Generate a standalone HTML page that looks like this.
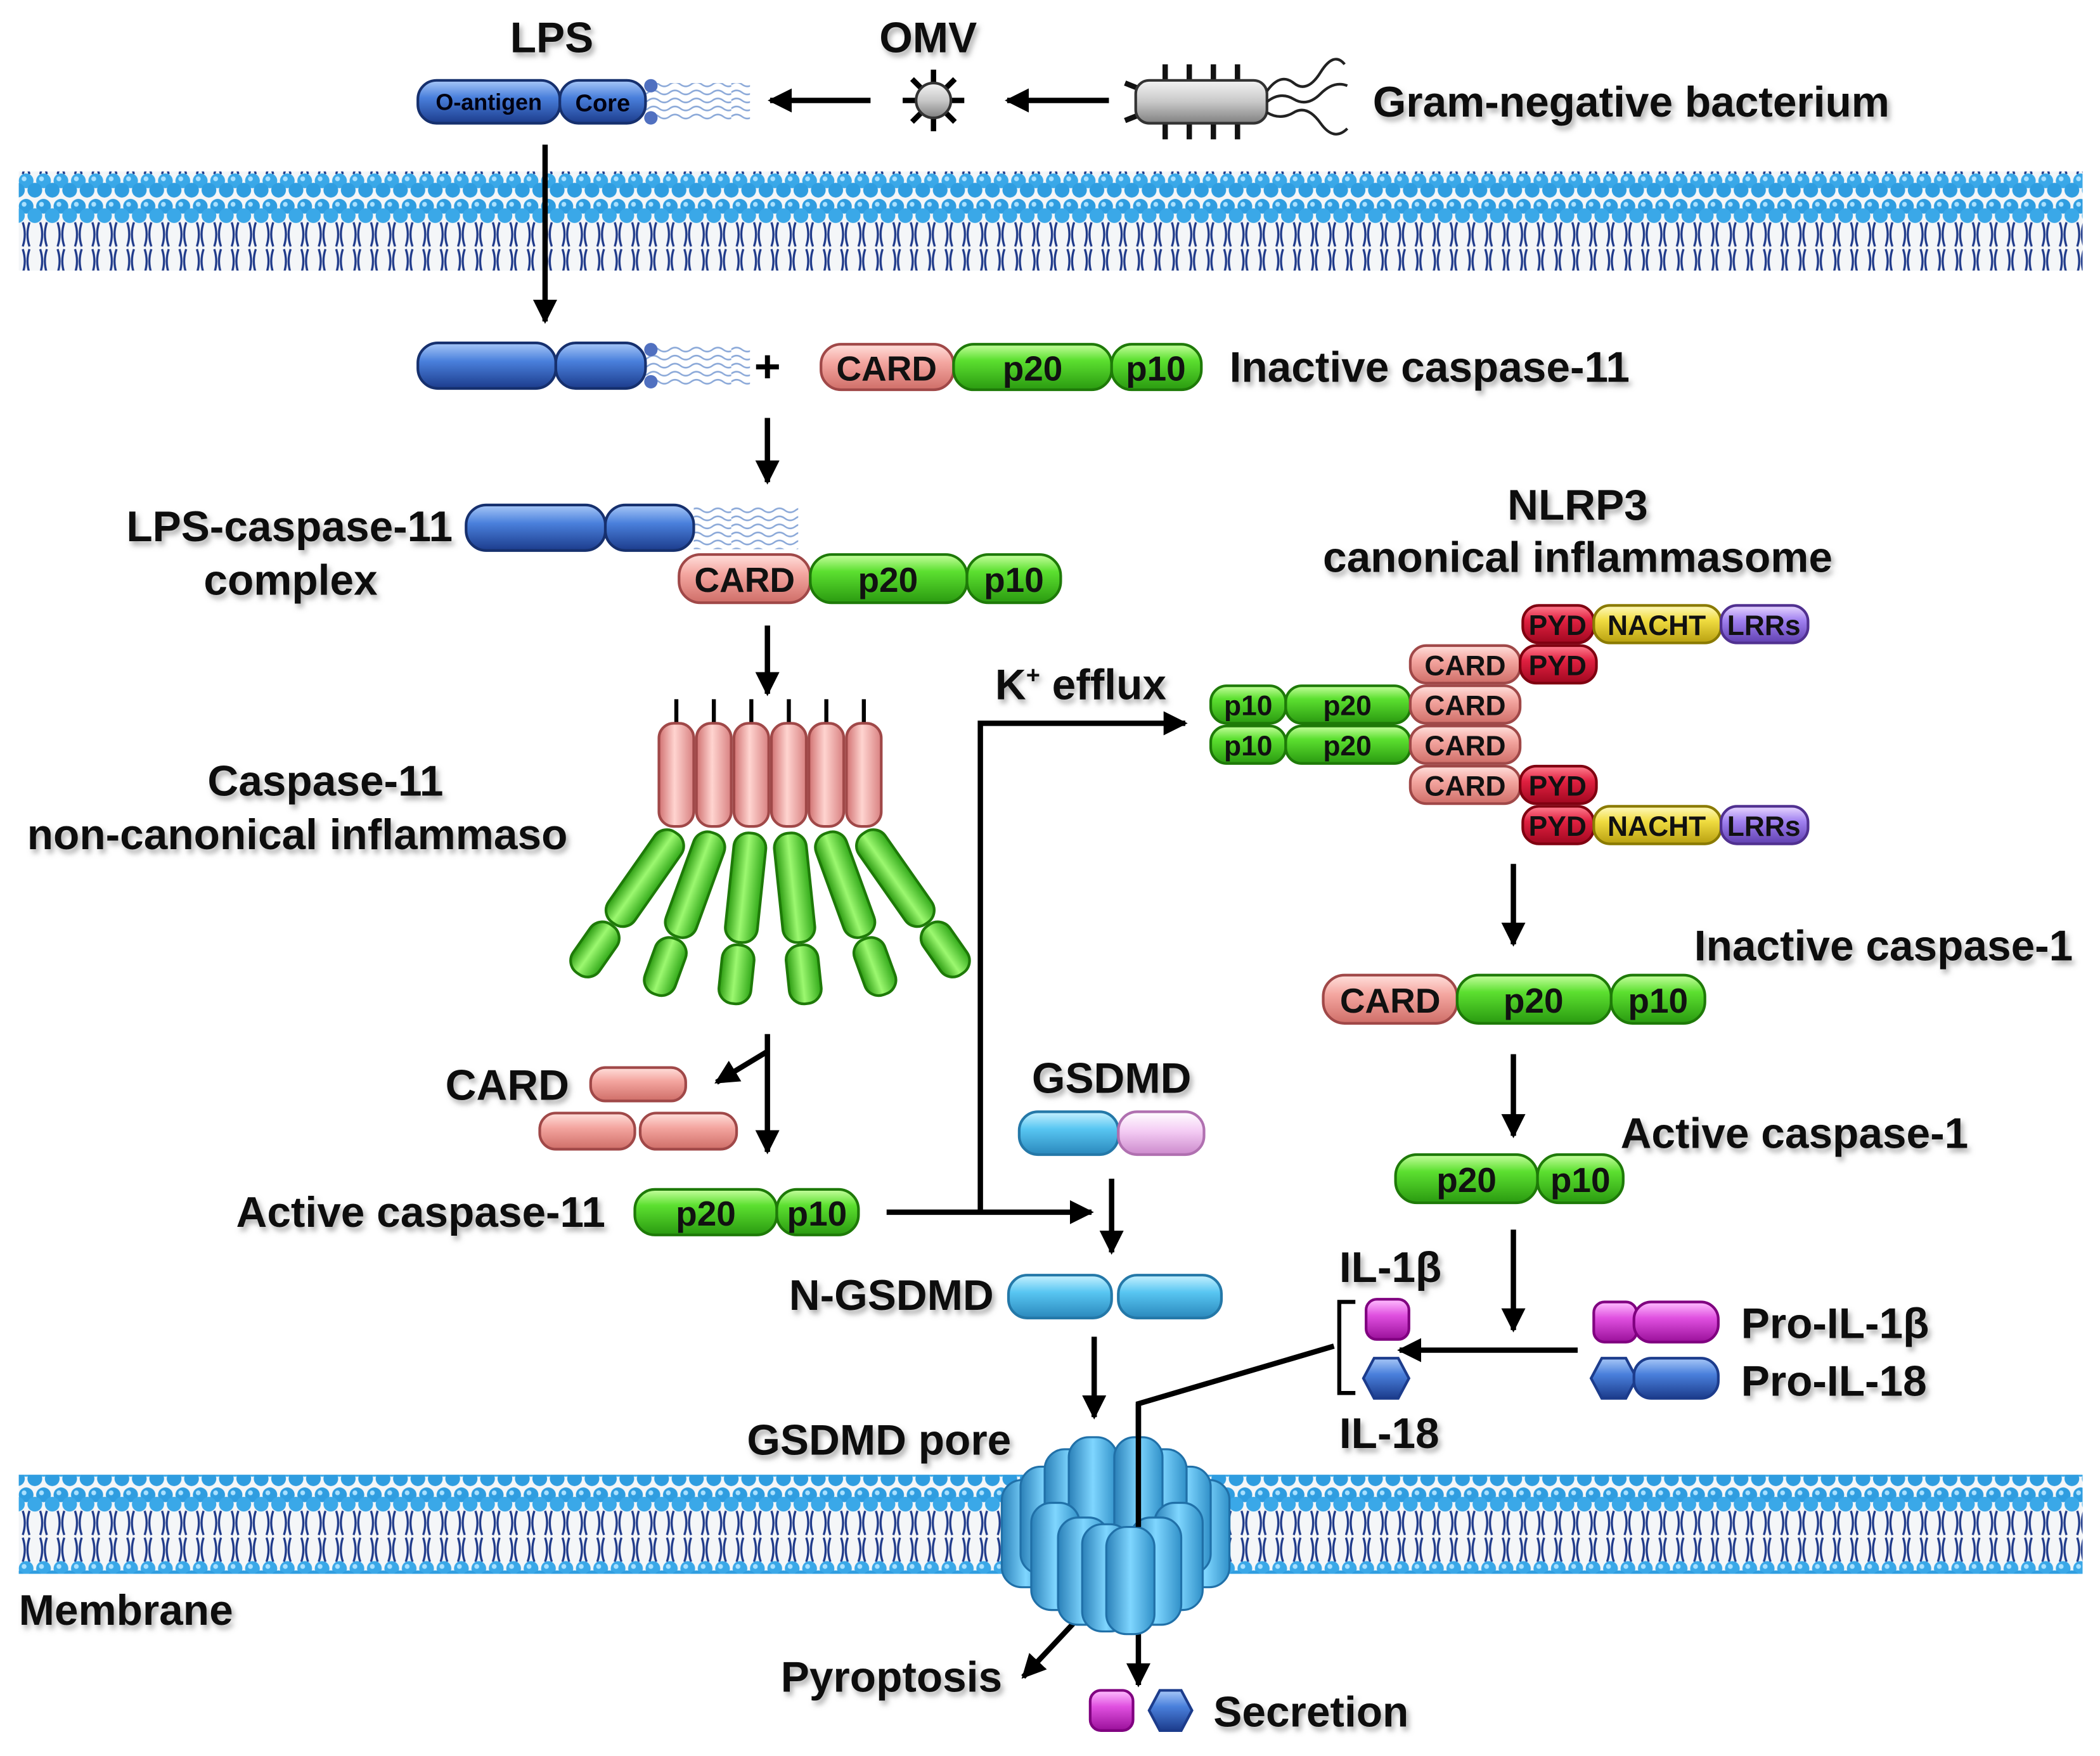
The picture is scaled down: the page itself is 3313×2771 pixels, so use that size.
<!DOCTYPE html>
<html><head><meta charset="utf-8"><style>
html,body{margin:0;padding:0;background:#fff}
svg{display:block}
text{font-family:"Liberation Sans",Arial,sans-serif;font-weight:bold}
.t{font-size:32px;fill:#111;filter:url(#sh)}
.p{font-size:26px;fill:#111;text-anchor:middle}
.ps{font-size:21px;fill:#111;text-anchor:middle}
</style></head><body>
<svg width="3313" height="2771" viewBox="0 0 1568 1311" preserveAspectRatio="none" xmlns="http://www.w3.org/2000/svg">
<defs>
<filter id="sh" x="-10%" y="-30%" width="130%" height="170%"><feDropShadow dx="2" dy="3" stdDeviation="2" flood-color="#777" flood-opacity="0.6"/></filter>
<linearGradient id="gG" x1="0" y1="0" x2="0" y2="1"><stop offset="0" stop-color="#c8ffa0"/><stop offset="0.35" stop-color="#5ce030"/><stop offset="1" stop-color="#2a9a10"/></linearGradient>
<linearGradient id="gP" x1="0" y1="0" x2="0" y2="1"><stop offset="0" stop-color="#ffe0dc"/><stop offset="0.4" stop-color="#f4a6a0"/><stop offset="1" stop-color="#cf6e68"/></linearGradient>
<linearGradient id="gB" x1="0" y1="0" x2="0" y2="1"><stop offset="0" stop-color="#a8c8f8"/><stop offset="0.4" stop-color="#4a80dc"/><stop offset="1" stop-color="#1c3c8c"/></linearGradient>
<linearGradient id="gC" x1="0" y1="0" x2="0" y2="1"><stop offset="0" stop-color="#c8f2ff"/><stop offset="0.4" stop-color="#58c6f2"/><stop offset="1" stop-color="#2a88bc"/></linearGradient>
<linearGradient id="gCv" x1="0" y1="0" x2="1" y2="0"><stop offset="0" stop-color="#2a80b8"/><stop offset="0.5" stop-color="#7fd6ff"/><stop offset="1" stop-color="#3090c8"/></linearGradient>
<linearGradient id="gM" x1="0" y1="0" x2="0" y2="1"><stop offset="0" stop-color="#ffc0ff"/><stop offset="0.4" stop-color="#e050e0"/><stop offset="1" stop-color="#9a109a"/></linearGradient>
<linearGradient id="gL" x1="0" y1="0" x2="0" y2="1"><stop offset="0" stop-color="#ffffff"/><stop offset="0.45" stop-color="#f4ccf4"/><stop offset="1" stop-color="#cc8acc"/></linearGradient>
<linearGradient id="gR" x1="0" y1="0" x2="0" y2="1"><stop offset="0" stop-color="#ff8090"/><stop offset="0.4" stop-color="#e02040"/><stop offset="1" stop-color="#a00820"/></linearGradient>
<linearGradient id="gY" x1="0" y1="0" x2="0" y2="1"><stop offset="0" stop-color="#fffac0"/><stop offset="0.4" stop-color="#f0dc40"/><stop offset="1" stop-color="#b8a010"/></linearGradient>
<linearGradient id="gU" x1="0" y1="0" x2="0" y2="1"><stop offset="0" stop-color="#e8d8ff"/><stop offset="0.4" stop-color="#a080f0"/><stop offset="1" stop-color="#6040b0"/></linearGradient>
<linearGradient id="gK" x1="0" y1="0" x2="0" y2="1"><stop offset="0" stop-color="#f4f4f4"/><stop offset="0.5" stop-color="#c8c8c8"/><stop offset="1" stop-color="#808080"/></linearGradient>
<linearGradient id="gGv" x1="0" y1="0" x2="1" y2="0"><stop offset="0" stop-color="#2a9a10"/><stop offset="0.45" stop-color="#9cf870"/><stop offset="1" stop-color="#30a818"/></linearGradient>
<linearGradient id="gPv" x1="0" y1="0" x2="1" y2="0"><stop offset="0" stop-color="#d07070"/><stop offset="0.45" stop-color="#ffd4d0"/><stop offset="1" stop-color="#d88080"/></linearGradient>
<pattern id="mem" width="13" height="74" patternUnits="userSpaceOnUse">
<rect width="13" height="74" fill="#f4f6f8"/>
<path d="M4 18 q3 9 0 18 M9 18 q-3 9 0 18 M4 38 q3 9 0 18 M9 38 q-3 9 0 18" stroke="#1f3a8a" stroke-width="1.6" fill="none"/>
<circle cx="6.5" cy="6" r="5.5" fill="#2f9de0"/><circle cx="0" cy="13" r="5.5" fill="#3aa8e8"/><circle cx="13" cy="13" r="5.5" fill="#3aa8e8"/>
<circle cx="6.5" cy="61" r="5.5" fill="#3aa8e8"/><circle cx="0" cy="68" r="5.5" fill="#2f9de0"/><circle cx="13" cy="68" r="5.5" fill="#2f9de0"/>
<circle cx="5" cy="4.5" r="1.8" fill="#a8e0ff"/><circle cx="5" cy="59.5" r="1.8" fill="#a8e0ff"/>
</pattern>
<pattern id="lip" width="78" height="6" patternUnits="userSpaceOnUse">
<path d="M0 3 q4 -3 8 0 t8 0 t8 0 t8 0 t8 0 t8 0 t8 0 t8 0 t8 0 t8 0" stroke="#8aa8d8" stroke-width="1.2" fill="none"/>
</pattern>
<marker id="ar" viewBox="0 0 10 10" refX="9" refY="5" markerWidth="4.5" markerHeight="4.5" orient="auto"><path d="M0 0 L10 5 L0 10 z" fill="#000"/></marker>
</defs>

<rect x="14" y="128" width="1541" height="74" fill="url(#mem)"/>
<rect x="14" y="1101" width="1541" height="74" fill="url(#mem)"/>

<g stroke="#000" stroke-width="4" fill="none" marker-end="url(#ar)">
<line x1="650" y1="75" x2="575" y2="75"/>
<line x1="828" y1="75" x2="752" y2="75"/>
<line x1="407" y1="108" x2="407" y2="240"/>
<line x1="573" y1="312" x2="573" y2="360"/>
<line x1="573" y1="467" x2="573" y2="518"/>
<line x1="573" y1="772" x2="573" y2="860"/>
<line x1="573" y1="785" x2="535" y2="808"/>
<line x1="662" y1="905" x2="815" y2="905"/>
<polyline points="732,905 732,540 885,540"/>
<line x1="830" y1="880" x2="830" y2="935"/>
<line x1="817" y1="998" x2="817" y2="1058"/>
<line x1="808" y1="1205" x2="764" y2="1252"/>
<polyline points="996,1005 850,1048 850,1258"/>
<line x1="1130" y1="645" x2="1130" y2="705"/>
<line x1="1130" y1="787" x2="1130" y2="848"/>
<line x1="1130" y1="918" x2="1130" y2="993"/>
<line x1="1178" y1="1008" x2="1045" y2="1008"/>
</g>
<polyline points="1012,972 1000,972 1000,1040 1012,1040" stroke="#000" stroke-width="3" fill="none"/>

<text class="t" x="412" y="39" text-anchor="middle">LPS</text>
<text class="t" x="693" y="39" text-anchor="middle">OMV</text>
<rect x="482" y="62" width="78" height="28" fill="url(#lip)"/>
<rect x="312" y="60" width="106" height="32" rx="14" fill="url(#gB)" stroke="#16306e" stroke-width="2"/>
<rect x="418" y="60" width="64" height="32" rx="14" fill="url(#gB)" stroke="#16306e" stroke-width="2"/>
<circle cx="486" cy="64" r="5" fill="#5070c0"/><circle cx="486" cy="88" r="5" fill="#5070c0"/>
<text x="365" y="82" font-size="17" fill="#001" text-anchor="middle">O-antigen</text>
<text x="450" y="83" font-size="18" fill="#001" text-anchor="middle">Core</text>
<g stroke="#000" stroke-width="4"><line x1="697" y1="52" x2="697" y2="98"/><line x1="674" y1="75" x2="720" y2="75"/><line x1="681" y1="59" x2="713" y2="91"/><line x1="681" y1="91" x2="713" y2="59"/></g>
<circle cx="697" cy="75" r="13" fill="url(#gK)" stroke="#333" stroke-width="2"/>
<g stroke="#111" stroke-width="4"><line x1="870" y1="48" x2="870" y2="104"/><line x1="888" y1="48" x2="888" y2="104"/><line x1="906" y1="48" x2="906" y2="104"/><line x1="924" y1="48" x2="924" y2="104"/><line x1="850" y1="66" x2="840" y2="62"/><line x1="850" y1="86" x2="840" y2="90"/></g>
<rect x="848" y="60" width="98" height="32" rx="10" fill="url(#gK)" stroke="#333" stroke-width="2"/>
<path d="M946 68 q10 -14 20 -6 t20 -8 t18 -6 M946 76 q10 -8 20 -2 t20 -4 t20 -6 M946 84 q10 6 20 0 t20 8 t20 4" stroke="#222" stroke-width="2" fill="none"/>
<text class="t" x="1025" y="87">Gram-negative bacterium</text>

<rect x="482" y="258" width="78" height="30" fill="url(#lip)"/>
<rect x="312" y="256" width="103" height="34" rx="15" fill="url(#gB)" stroke="#16306e" stroke-width="2"/>
<rect x="415" y="256" width="67" height="34" rx="15" fill="url(#gB)" stroke="#16306e" stroke-width="2"/>
<circle cx="486" cy="261" r="5" fill="#5070c0"/><circle cx="486" cy="285" r="5" fill="#5070c0"/>
<text x="573" y="285" font-size="34" fill="#000" text-anchor="middle">+</text>
<rect x="613" y="257" width="99" height="34" rx="15" fill="url(#gP)" stroke="#a04848" stroke-width="2"/>
<rect x="712" y="257" width="118" height="34" rx="15" fill="url(#gG)" stroke="#1e7a08" stroke-width="2"/>
<rect x="830" y="257" width="67" height="34" rx="15" fill="url(#gG)" stroke="#1e7a08" stroke-width="2"/>
<text class="p" x="662" y="284">CARD</text><text class="p" x="771" y="284">p20</text><text class="p" x="863" y="284">p10</text>
<text class="t" x="918" y="285">Inactive caspase-11</text>

<text class="t" x="338" y="404" text-anchor="end">LPS-caspase-11</text>
<text class="t" x="217" y="444" text-anchor="middle">complex</text>
<rect x="518" y="378" width="78" height="32" fill="url(#lip)"/>
<rect x="348" y="377" width="104" height="34" rx="15" fill="url(#gB)" stroke="#16306e" stroke-width="2"/>
<rect x="452" y="377" width="66" height="34" rx="15" fill="url(#gB)" stroke="#16306e" stroke-width="2"/>
<rect x="507" y="414" width="98" height="36" rx="16" fill="url(#gP)" stroke="#a04848" stroke-width="2"/>
<rect x="605" y="414" width="117" height="36" rx="16" fill="url(#gG)" stroke="#1e7a08" stroke-width="2"/>
<rect x="722" y="414" width="70" height="36" rx="16" fill="url(#gG)" stroke="#1e7a08" stroke-width="2"/>
<text class="p" x="556" y="442">CARD</text><text class="p" x="663" y="442">p20</text><text class="p" x="757" y="442">p10</text>

<text class="t" x="243" y="594" text-anchor="middle">Caspase-11</text>
<text class="t" x="222" y="634" text-anchor="middle">non-canonical inflammaso</text>
<g stroke="#000" stroke-width="3">
<line x1="505" y1="522" x2="505" y2="542"/><line x1="533" y1="522" x2="533" y2="542"/><line x1="561" y1="522" x2="561" y2="542"/><line x1="589" y1="522" x2="589" y2="542"/><line x1="617" y1="522" x2="617" y2="542"/><line x1="645" y1="522" x2="645" y2="542"/></g>
<g fill="url(#gGv)" stroke="#1e7a08" stroke-width="2">
<g transform="rotate(35 505 622)"><rect x="493" y="622" width="24" height="82" rx="11"/><rect x="493" y="706" width="24" height="44" rx="11"/></g>
<g transform="rotate(20 533 622)"><rect x="521" y="622" width="24" height="82" rx="11"/><rect x="521" y="706" width="24" height="44" rx="11"/></g>
<g transform="rotate(6 561 622)"><rect x="549" y="622" width="24" height="82" rx="11"/><rect x="549" y="706" width="24" height="44" rx="11"/></g>
<g transform="rotate(-6 589 622)"><rect x="577" y="622" width="24" height="82" rx="11"/><rect x="577" y="706" width="24" height="44" rx="11"/></g>
<g transform="rotate(-20 617 622)"><rect x="605" y="622" width="24" height="82" rx="11"/><rect x="605" y="706" width="24" height="44" rx="11"/></g>
<g transform="rotate(-35 645 622)"><rect x="633" y="622" width="24" height="82" rx="11"/><rect x="633" y="706" width="24" height="44" rx="11"/></g>
</g>
<g fill="url(#gPv)" stroke="#a04848" stroke-width="2">
<rect x="492" y="540" width="26" height="77" rx="11"/><rect x="520" y="540" width="26" height="77" rx="11"/><rect x="548" y="540" width="26" height="77" rx="11"/><rect x="576" y="540" width="26" height="77" rx="11"/><rect x="604" y="540" width="26" height="77" rx="11"/><rect x="632" y="540" width="26" height="77" rx="11"/></g>

<text class="t" x="425" y="821" text-anchor="end">CARD</text>
<g fill="url(#gP)" stroke="#a04848" stroke-width="2">
<rect x="441" y="797" width="71" height="25" rx="11"/><rect x="403" y="831" width="71" height="27" rx="12"/><rect x="478" y="831" width="72" height="27" rx="12"/></g>
<text class="t" x="452" y="916" text-anchor="end">Active caspase-11</text>
<rect x="474" y="888" width="106" height="34" rx="15" fill="url(#gG)" stroke="#1e7a08" stroke-width="2"/>
<rect x="580" y="888" width="61" height="34" rx="15" fill="url(#gG)" stroke="#1e7a08" stroke-width="2"/>
<text class="p" x="527" y="915">p20</text><text class="p" x="610" y="915">p10</text>
<text class="t" x="743" y="522">K<tspan font-size="18" dy="-12">+</tspan><tspan dy="12"> efflux</tspan></text>

<text class="t" x="830" y="816" text-anchor="middle">GSDMD</text>
<rect x="761" y="830" width="74" height="32" rx="14" fill="url(#gC)" stroke="#2478a8" stroke-width="2"/>
<rect x="835" y="830" width="64" height="32" rx="14" fill="url(#gL)" stroke="#b070b0" stroke-width="2"/>
<text class="t" x="742" y="978" text-anchor="end">N-GSDMD</text>
<rect x="753" y="952" width="77" height="32" rx="14" fill="url(#gC)" stroke="#2478a8" stroke-width="2"/>
<rect x="835" y="952" width="77" height="32" rx="14" fill="url(#gC)" stroke="#2478a8" stroke-width="2"/>
<text class="t" x="755" y="1086" text-anchor="end">GSDMD pore</text>

<g fill="url(#gCv)" stroke="#2070a8" stroke-width="1.5">
<rect x="748" y="1105" width="36" height="80" rx="15"/><rect x="882" y="1105" width="36" height="80" rx="15"/>
<rect x="762" y="1095" width="36" height="80" rx="15"/><rect x="868" y="1095" width="36" height="80" rx="15"/>
<rect x="780" y="1082" width="38" height="82" rx="15"/><rect x="848" y="1082" width="38" height="82" rx="15"/>
<rect x="798" y="1073" width="36" height="84" rx="15"/><rect x="832" y="1073" width="36" height="84" rx="15"/>
<rect x="770" y="1122" width="36" height="80" rx="15"/><rect x="862" y="1122" width="36" height="80" rx="15"/>
<rect x="790" y="1133" width="38" height="80" rx="15"/><rect x="844" y="1133" width="38" height="80" rx="15"/>
<rect x="808" y="1138" width="36" height="80" rx="15"/><rect x="826" y="1140" width="36" height="80" rx="15"/>
</g>
<line x1="850" y1="1048" x2="850" y2="1140" stroke="#000" stroke-width="4"/>
<text class="t" x="14" y="1213">Membrane</text>
<text class="t" x="583" y="1263">Pyroptosis</text>
<rect x="814" y="1262" width="32" height="30" rx="8" fill="url(#gM)" stroke="#800080" stroke-width="2"/>
<polygon points="858,1277 866,1262 882,1262 890,1277 882,1292 866,1292" fill="url(#gB)" stroke="#1c3c8c" stroke-width="2"/>
<text class="t" x="906" y="1289">Secretion</text>

<text class="t" x="1178" y="388" text-anchor="middle">NLRP3</text>
<text class="t" x="1178" y="427" text-anchor="middle">canonical inflammasome</text>
<g stroke-width="2">
<rect x="1137" y="452" width="53" height="28" rx="12" fill="url(#gR)" stroke="#800010"/><rect x="1190" y="452" width="95" height="28" rx="12" fill="url(#gY)" stroke="#8a7a00"/><rect x="1285" y="452" width="65" height="28" rx="12" fill="url(#gU)" stroke="#503090"/>
<rect x="1053" y="482" width="82" height="28" rx="12" fill="url(#gP)" stroke="#a04848"/><rect x="1135" y="482" width="57" height="28" rx="12" fill="url(#gR)" stroke="#800010"/>
<rect x="904" y="512" width="56" height="28" rx="12" fill="url(#gG)" stroke="#1e7a08"/><rect x="960" y="512" width="93" height="28" rx="12" fill="url(#gG)" stroke="#1e7a08"/><rect x="1053" y="512" width="82" height="28" rx="12" fill="url(#gP)" stroke="#a04848"/>
<rect x="904" y="542" width="56" height="28" rx="12" fill="url(#gG)" stroke="#1e7a08"/><rect x="960" y="542" width="93" height="28" rx="12" fill="url(#gG)" stroke="#1e7a08"/><rect x="1053" y="542" width="82" height="28" rx="12" fill="url(#gP)" stroke="#a04848"/>
<rect x="1053" y="572" width="82" height="28" rx="12" fill="url(#gP)" stroke="#a04848"/><rect x="1135" y="572" width="57" height="28" rx="12" fill="url(#gR)" stroke="#800010"/>
<rect x="1137" y="602" width="53" height="28" rx="12" fill="url(#gR)" stroke="#800010"/><rect x="1190" y="602" width="95" height="28" rx="12" fill="url(#gY)" stroke="#8a7a00"/><rect x="1285" y="602" width="65" height="28" rx="12" fill="url(#gU)" stroke="#503090"/>
</g>
<g>
<text class="ps" x="1163" y="474">PYD</text><text class="ps" x="1237" y="474">NACHT</text><text class="ps" x="1317" y="474">LRRs</text>
<text class="ps" x="1094" y="504">CARD</text><text class="ps" x="1163" y="504">PYD</text>
<text class="ps" x="932" y="534">p10</text><text class="ps" x="1006" y="534">p20</text><text class="ps" x="1094" y="534">CARD</text>
<text class="ps" x="932" y="564">p10</text><text class="ps" x="1006" y="564">p20</text><text class="ps" x="1094" y="564">CARD</text>
<text class="ps" x="1094" y="594">CARD</text><text class="ps" x="1163" y="594">PYD</text>
<text class="ps" x="1163" y="624">PYD</text><text class="ps" x="1237" y="624">NACHT</text><text class="ps" x="1317" y="624">LRRs</text>
</g>

<text class="t" x="1265" y="717">Inactive caspase-1</text>
<rect x="988" y="728" width="100" height="36" rx="16" fill="url(#gP)" stroke="#a04848" stroke-width="2"/>
<rect x="1088" y="728" width="115" height="36" rx="16" fill="url(#gG)" stroke="#1e7a08" stroke-width="2"/>
<rect x="1203" y="728" width="70" height="36" rx="16" fill="url(#gG)" stroke="#1e7a08" stroke-width="2"/>
<text class="p" x="1038" y="756">CARD</text><text class="p" x="1145" y="756">p20</text><text class="p" x="1238" y="756">p10</text>
<text class="t" x="1210" y="857">Active caspase-1</text>
<rect x="1042" y="862" width="106" height="36" rx="16" fill="url(#gG)" stroke="#1e7a08" stroke-width="2"/>
<rect x="1148" y="862" width="64" height="36" rx="16" fill="url(#gG)" stroke="#1e7a08" stroke-width="2"/>
<text class="p" x="1095" y="890">p20</text><text class="p" x="1180" y="890">p10</text>

<rect x="1190" y="972" width="32" height="30" rx="8" fill="url(#gM)" stroke="#800080" stroke-width="2"/>
<rect x="1220" y="972" width="63" height="30" rx="13" fill="url(#gM)" stroke="#800080" stroke-width="2"/>
<polygon points="1188,1029 1196,1014 1214,1014 1222,1029 1214,1044 1196,1044" fill="url(#gB)" stroke="#1c3c8c" stroke-width="2"/>
<rect x="1220" y="1014" width="63" height="30" rx="13" fill="url(#gB)" stroke="#1c3c8c" stroke-width="2"/>
<text class="t" x="1300" y="999">Pro-IL-1β</text>
<text class="t" x="1300" y="1042">Pro-IL-18</text>
<text class="t" x="1000" y="957">IL-1β</text>
<rect x="1020" y="970" width="32" height="30" rx="8" fill="url(#gM)" stroke="#800080" stroke-width="2"/>
<polygon points="1018,1029 1026,1014 1044,1014 1052,1029 1044,1044 1026,1044" fill="url(#gB)" stroke="#1c3c8c" stroke-width="2"/>
<text class="t" x="1000" y="1081">IL-18</text>
</svg>
</body></html>
